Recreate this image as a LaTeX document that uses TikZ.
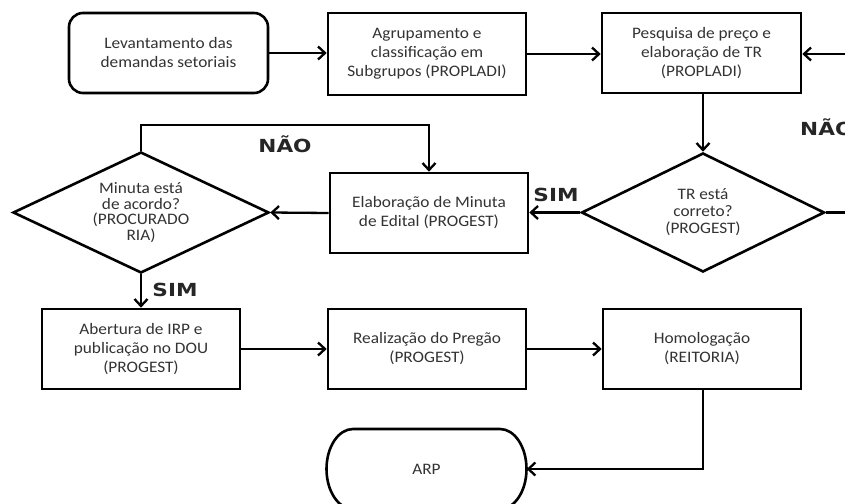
\documentclass[tikz,border=0pt]{standalone}
\usepackage{fontspec}
\setmainfont[FakeStretch=1.08]{Carlito}
\newfontfamily\lblfont[FakeStretch=1.2]{DejaVu Sans}
\usetikzlibrary{shapes.geometric,arrows.meta}
\begin{document}
\begin{tikzpicture}[x=1pt,y=-1pt,
  box/.style={draw, line width=2.6pt, minimum width=198pt, minimum height=80pt,
    inner sep=0pt, align=center, text=black!80, font=\fontsize{16}{19}\selectfont},
  rbox/.style={box, rounded corners=14pt},
  dec/.style={draw, diamond, line width=2.6pt, inner sep=0pt, aspect=2,
    align=center, text=black!80, font=\fontsize{16}{17}\selectfont},
  conn/.style={line width=2.3pt, -{Straight Barb[length=7pt,width=13pt]}},
  lbl/.style={font=\lblfont\bfseries\fontsize{18}{18}\selectfont, text=black!85, inner sep=0pt}
]
\useasboundingbox (0,0) rectangle (845,503);
\clip (0,0) rectangle (845,503);
\fill[white] (0,0) rectangle (845,503);

% nodes
\node[rbox, minimum width=199pt] (n1) at (168.5,53) {Levantamento das\\demandas setoriais};
\node[box, minimum height=82pt] (n2) at (427,54) {Agrupamento e\\classificação em\\Subgrupos (PROPLADI)};
\node[box, minimum width=199pt] (n3) at (701.5,53) {Pesquisa de preço e\\elaboração de TR\\(PROPLADI)};
\node[dec, minimum width=243pt, minimum height=119pt] (d1) at (703,212.5) {TR está\\correto?\\(PROGEST)};
\node[box] (n4) at (429,213) {Elaboração de Minuta\\de Edital (PROGEST)};
\node[dec, minimum width=256pt, minimum height=121pt, font=\fontsize{16}{15.5}\selectfont] (d2) at (141,212.5) {Minuta está\\de acordo?\\(PROCURADO\\RIA)};
\node[box] (n5) at (141,349) {Abertura de IRP e\\publicação no DOU\\(PROGEST)};
\node[box] (n6) at (427,349) {Realização do Pregão\\(PROGEST)};
\node[box] (n7) at (702,349) {Homologação\\(REITORIA)};
\node[minimum width=200pt, minimum height=80pt, inner sep=0pt, text=black!80,
  font=\fontsize{16}{19}\selectfont] (n8) at (426.5,469) {ARP};
\draw[line width=2.6pt] (353,429) -- (500,429)
  arc[start angle=-90, end angle=0, x radius=26.5, y radius=40]
  arc[start angle=0, end angle=90, x radius=26.5, y radius=40] -- (353,509)
  arc[start angle=90, end angle=180, x radius=26.5, y radius=40]
  arc[start angle=180, end angle=270, x radius=26.5, y radius=40] -- cycle;

% coordinates for loops
\coordinate (c1) at (141,125);
\coordinate (c2) at (429,125);
\coordinate (c3) at (880,212.5);
\coordinate (c4) at (880,54);
\coordinate (c5) at (703,469);

% connectors
\draw[conn] (n1.east) -- (n2.west |- n1.east);
\draw[conn] (n2.east) -- (n3.west |- n2.east);
\draw[conn] (n3.south -| d1.north) -- (d1.north);
\draw[conn] (d1.west) -- (n4.east |- d1.west);
\draw[conn] (n4.west) -- (d2.east);
\draw[conn] (d2.north) -- (c1) -- (c2) -- (n4.north);
\draw[conn] (d2.south) -- (n5.north);
\draw[conn] (n5.east) -- (n6.west);
\draw[conn] (n6.east) -- (n7.west);
\draw[conn] (n7.south -| c5) -- (c5) -- (n8.east |- c5);
\draw[conn] (d1.east) -- (c3) -- (c4) -- (n3.east |- c4);

% labels
\node[lbl] (sim1) at (556,195) {SIM};
\node[lbl] (nao1) at (285,144) {NÃO};
\node[lbl] (sim2) at (175,290) {SIM};
\node[lbl, anchor=west] (nao2) at (800,127) {NÃO};
\end{tikzpicture}
\end{document}
